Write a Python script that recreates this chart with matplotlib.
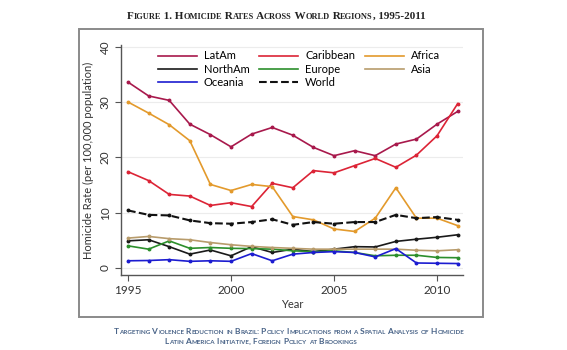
import numpy as np
import matplotlib
matplotlib.use("Agg")
import matplotlib.pyplot as plt
from matplotlib.patches import Rectangle
from matplotlib.lines import Line2D

years = list(range(1995, 2012))

latam = [33.6, 31.1, 30.3, 26.0, 24.1, 21.9, 24.2, 25.4, 24.0, 21.8, 20.3, 21.2, 20.3, 22.4, 23.3, 26.0, 28.3]
caribbean = [17.4, 15.8, 13.3, 13.0, 11.3, 11.8, 11.1, 15.3, 14.5, 17.6, 17.2, 18.5, 19.8, 18.2, 20.4, 23.9, 29.7]
africa = [30.0, 28.0, 25.9, 23.0, 15.1, 14.0, 15.1, 14.7, 9.3, 8.7, 7.05, 6.6, 9.0, 14.5, 9.0, 9.0, 7.65]
northam = [4.9, 5.1, 3.85, 2.5, 3.25, 2.2, 3.85, 2.8, 3.4, 2.95, 3.4, 3.85, 3.8, 4.8, 5.2, 5.55, 6.0]
europe = [4.0, 3.4, 4.9, 3.55, 3.7, 3.55, 3.5, 3.4, 3.1, 2.95, 3.1, 2.8, 2.2, 2.3, 2.3, 1.9, 1.85]
asia = [5.4, 5.7, 5.3, 5.1, 4.6, 4.2, 3.9, 3.7, 3.55, 3.4, 3.4, 3.4, 3.4, 3.4, 3.2, 3.1, 3.3]
oceania = [1.3, 1.35, 1.5, 1.2, 1.3, 1.2, 2.6, 1.3, 2.5, 2.8, 2.95, 2.8, 2.0, 3.5, 0.9, 0.85, 0.8]
world = [10.4, 9.6, 9.5, 8.6, 8.1, 8.0, 8.3, 8.8, 7.8, 8.3, 8.0, 8.3, 8.3, 9.6, 9.0, 9.2, 8.7]

SANS = ["Lato", "DejaVu Sans"]


def small_caps(fig, xc, y, s, size, ratio=0.75, **kw):
    # fake small caps: lower case letters become smaller capitals
    runs = []
    for ch in s:
        small = ch.islower()
        if runs and runs[-1][1] == small:
            runs[-1][0] += ch.upper()
        else:
            runs.append([ch.upper(), small])
    r = fig.canvas.get_renderer()
    texts, widths = [], []
    for txt, small in runs:
        t = fig.text(0, y, txt, fontsize=size * ratio if small else size,
                     va="baseline", ha="left", **kw)
        texts.append(t)
        widths.append(t.get_window_extent(r).width / fig.bbox.width)
    x = xc - sum(widths) / 2
    for t, w in zip(texts, widths):
        t.set_x(x)
        x += w


def main():
    plt.rcParams["font.family"] = SANS
    fig = plt.figure(figsize=(5.67, 3.5), dpi=100)

    # gray frame around the graph
    fig.patches.append(Rectangle((0.139, 0.094), 0.713, 0.823, transform=fig.transFigure,
                                 fill=False, edgecolor="#8a8a8a", linewidth=1.4))

    ax = fig.add_axes([0.2134, 0.2143, 0.6032, 0.657])
    series = [
        ("LatAm", latam, "#a8194c", "-"),
        ("Caribbean", caribbean, "#dc2436", "-"),
        ("Africa", africa, "#e39a2c", "-"),
        ("NorthAm", northam, "#1a1a1a", "-"),
        ("Europe", europe, "#2c8f2c", "-"),
        ("Asia", asia, "#b89c6c", "-"),
        ("Oceania", oceania, "#1c1cd0", "-"),
        ("World", world, "#111111", "--"),
    ]
    handles = {}
    for name, vals, col, ls in series:
        lw = 1.2 if ls == "-" else 1.5
        ax.plot(years, vals, color=col, linestyle=ls, linewidth=lw,
                marker="o", markersize=1.8)
        handles[name] = Line2D([], [], color=col, linestyle=ls, linewidth=lw)

    ax.set_xlim(1994.66, 2011.26)
    ax.set_ylim(-1.27, 40.3)
    ax.set_xticks([1995, 2000, 2005, 2010])
    ax.set_yticks([0, 10, 20, 30, 40])
    ax.grid(axis="y", color="#ececec", linewidth=0.8)
    ax.set_axisbelow(True)
    for sp in ["top", "right"]:
        ax.spines[sp].set_visible(False)
    for sp in ["left", "bottom"]:
        ax.spines[sp].set_color("#555555")
        ax.spines[sp].set_linewidth(1.0)
    ax.tick_params(colors="#555555", labelcolor="#333333", labelsize=8.5, length=4)
    for lab in ax.get_yticklabels():
        lab.set_rotation(90)
        lab.set_va("center")
    ax.set_ylabel("Homicide Rate (per 100,000 population)", fontsize=8, color="#333333", labelpad=4)
    ax.set_xlabel("Year", fontsize=8, color="#333333", labelpad=2)

    # legend fills columns first, so order to read row by row
    order = ["LatAm", "NorthAm", "Oceania", "Caribbean", "Europe", "World", "Africa", "Asia"]
    ax.legend([handles[n] for n in order], order, loc="upper left",
              bbox_to_anchor=(0.279, 0.856), bbox_transform=fig.transFigure,
              ncol=3, frameon=False, fontsize=8, handlelength=3.5, handletextpad=0.6,
              columnspacing=0.9, labelspacing=0.22, borderaxespad=0, borderpad=0)

    small_caps(fig, 0.487, 0.947, "Figure 1. Homicide Rates Across World Regions, 1995-2011", 8,
               family=["Liberation Serif", "DejaVu Serif"], weight="bold", color="#222222")
    small_caps(fig, 0.51, 0.047,
               "Targeting Violence Reduction in Brazil: Policy Implications from a Spatial Analysis of Homicide",
               6, color="#4a6488", weight="bold")
    small_caps(fig, 0.46, 0.017, "Latin America Initiative, Foreign Policy at Brookings", 6,
               color="#4a6488", weight="bold")

    fig.savefig("out.png", dpi=100)


if __name__ == "__main__":
    main()
